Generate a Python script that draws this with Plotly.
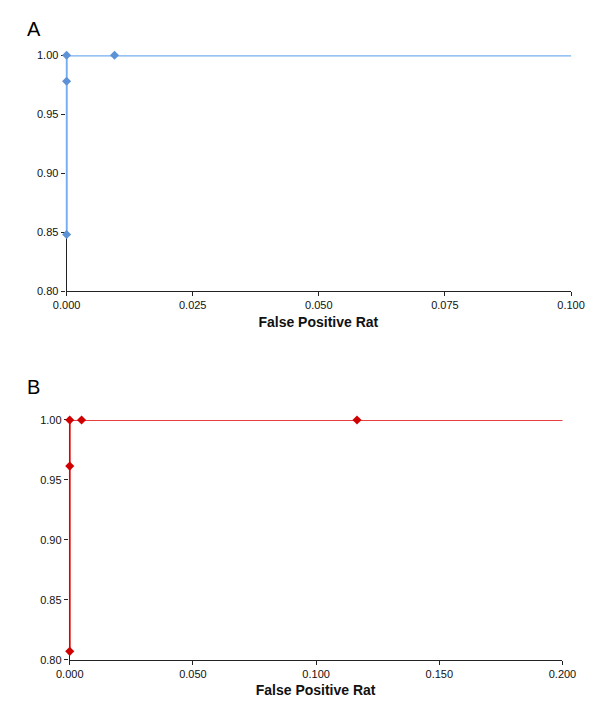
"""
ROC curves (panels A and B), zoomed on the top-left corner
"""

import plotly.graph_objects as go

# Panel A data
fpr_a = [0.0, 0.0, 0.0, 0.0095, 1.0]
tpr_a = [0.848, 0.978, 1.0, 1.0, 1.0]
xticks_a = [0.0, 0.025, 0.05, 0.075, 0.1]

# Panel B data
fpr_b = [0.0, 0.0, 0.0, 0.0048, 0.1166, 1.0]
tpr_b = [0.807, 0.9615, 1.0, 1.0, 1.0, 1.0]
xticks_b = [0.0, 0.05, 0.1, 0.15, 0.2]

yticks = [0.80, 0.85, 0.90, 0.95, 1.00]

W, H = 600, 701
font = "Liberation Sans, Arial, sans-serif"

fig = go.Figure()

# Traces (last point lies far outside the axis range, so only the line shows)
fig.add_trace(go.Scatter(
    x=fpr_a, y=tpr_a, mode='lines+markers',
    line=dict(color='#74aef0', width=2.2),
    marker=dict(symbol='diamond', size=7, color='#5d93d6'),
    cliponaxis=False,
    xaxis='x', yaxis='y', showlegend=False
))
fig.add_trace(go.Scatter(
    x=fpr_b, y=tpr_b, mode='lines+markers',
    line=dict(color='#e00000', width=1.8),
    marker=dict(symbol='diamond', size=7, color='#d00000'),
    cliponaxis=False,
    xaxis='x2', yaxis='y2', showlegend=False
))

tick_common = dict(
    showgrid=False, layer='below traces',
    ticks='outside', ticklen=4, tickcolor='#222222',
    tickfont=dict(family=font, size=11, color='#111111'),
)
# x axes: bottom line + zero line acting as the vertical axis (sits under the curve)
x_common = dict(showline=True, linecolor='#222222', linewidth=1,
                zeroline=True, zerolinecolor='#222222', zerolinewidth=1,
                **tick_common)
y_common = dict(showline=False, zeroline=False, **tick_common)


def px_x(v):
    return v / W


def px_y(v):
    return 1 - v / H


title_font = dict(family=font, size=14, color='#111111')

fig.update_layout(
    width=W, height=H,
    margin=dict(l=0, r=0, t=0, b=0),
    paper_bgcolor='white', plot_bgcolor='white',
    xaxis=dict(
        domain=[px_x(46.7), px_x(576)], range=[-0.0002, 0.1],
        tickvals=xticks_a, tickformat='.3f', anchor='y',
        title=dict(text='<b>False Positive Rat</b>', standoff=6, font=title_font),
        **x_common
    ),
    yaxis=dict(
        domain=[px_y(282), px_y(42)], range=[0.8, 1.0],
        tickvals=yticks, tickformat='.2f', anchor='x',
        **y_common
    ),
    xaxis2=dict(
        domain=[px_x(50), px_x(567)], range=[-0.0004, 0.2],
        tickvals=xticks_b, tickformat='.3f', anchor='y2',
        title=dict(text='<b>False Positive Rat</b>', standoff=6, font=title_font),
        **x_common
    ),
    yaxis2=dict(
        domain=[px_y(657), px_y(413)], range=[0.8, 1.0],
        tickvals=yticks, tickformat='.2f', anchor='x2',
        **y_common
    ),
    annotations=[
        dict(text='A', x=px_x(4), y=px_y(15), xref='paper', yref='paper',
             xanchor='left', yanchor='middle', showarrow=False,
             font=dict(family=font, size=20, color='black')),
        dict(text='B', x=px_x(4), y=px_y(380), xref='paper', yref='paper',
             xanchor='left', yanchor='middle', showarrow=False,
             font=dict(family=font, size=20, color='black')),
    ],
)

fig.write_html("out.html")
